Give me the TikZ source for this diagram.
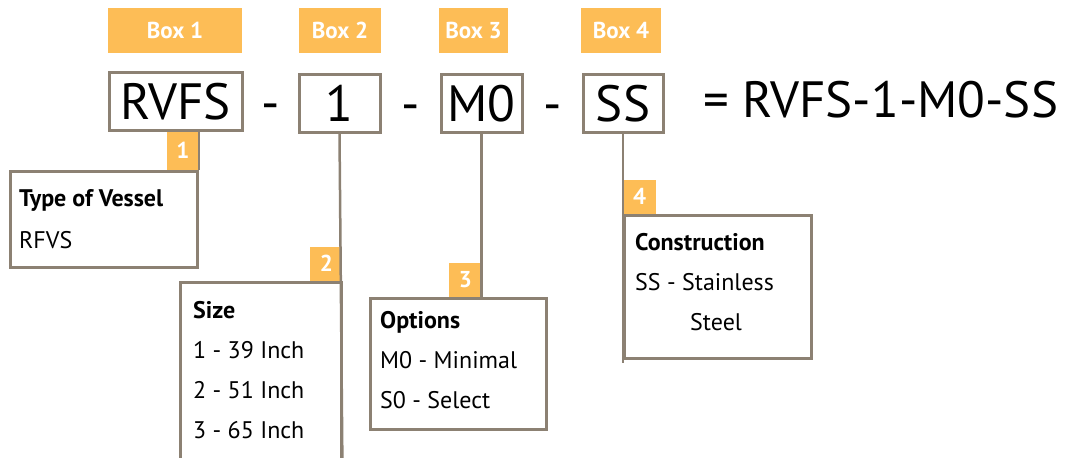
\documentclass[tikz,border=0pt]{standalone}
\usepackage{fontspec}
\setmainfont{PT Sans}
\usetikzlibrary{calc}
\definecolor{tagorange}{RGB}{253,189,86}
\definecolor{framegray}{RGB}{140,129,115}

\begin{document}
\begin{tikzpicture}[x=1pt,y=-1pt,line join=miter]
	\tikzset{codebox/.style={draw=framegray,line width=3pt,inner sep=0pt,minimum height=58pt,
			text height=36pt,text depth=0pt,font=\fontsize{51}{51}\selectfont},
		bigtxt/.style={inner sep=0pt,text height=36pt,text depth=0pt,font=\fontsize{51}{51}\selectfont},
		boxlabel/.style={fill=tagorange,text=white,inner sep=0pt,minimum height=45pt,
			text height=16pt,text depth=0pt,font=\bfseries\fontsize{23}{23}\selectfont},
		tag/.style={fill=tagorange,text=white,inner sep=0pt,minimum width=32pt,minimum height=34pt,
			text height=16pt,text depth=0pt,font=\bfseries\fontsize{23}{23}\selectfont},
		infobox/.style={draw=framegray,line width=3pt,inner sep=0pt,anchor=north west},
		infotxt/.style={anchor=base west,inner sep=0pt,font=\fontsize{24}{24}\selectfont},
		infohead/.style={infotxt,font=\bfseries\fontsize{24}{24}\selectfont},
		link/.style={draw=framegray,line width=2.5pt}}
	\useasboundingbox (0,0) rectangle (1069,458);
	% box labels
	\node[boxlabel,minimum width=134pt] (lab1) at (175,30.5) {Box 1};
	\node[boxlabel,minimum width=82pt] (lab2) at (340,30.5) {Box 2};
	\node[boxlabel,minimum width=69pt] (lab3) at (473.5,30.5) {Box 3};
	\node[boxlabel,minimum width=80pt] (lab4) at (621,30.5) {Box 4};
	% code boxes
	\node[codebox,minimum width=133pt] (rvfs) at (175.5,101) {RVFS};
	\node[codebox,minimum width=81pt] (one) at (339.5,103) {1};
	\node[codebox,minimum width=81pt] (mo) at (481.5,103.5) {M0};
	\node[codebox,minimum width=80pt] (ss) at (623,103.5) {SS};
	\node[bigtxt] (dash1) at ($(rvfs.east)!0.5!(one.west)$) {-};
	\node[bigtxt] (dash2) at ($(one.east)!0.5!(mo.west)$) {-};
	\node[bigtxt] (dash3) at ($(mo.east)!0.5!(ss.west)$) {-};
	\node[bigtxt,anchor=base west] (result) at (703,117) {= RVFS-1-M0-SS};
	% info boxes
	\node[infobox,minimum width=187pt,minimum height=96pt] (vessel) at (9,170) {};
	\node[infobox,minimum width=161pt,minimum height=190pt] (size) at (178.5,281) {};
	\node[infobox,minimum width=176pt,minimum height=131pt] (options) at (369,297) {};
	\node[infobox,minimum width=187pt,minimum height=143pt] (construction) at (623,214) {};
	% tags
	\node[tag,minimum height=38pt,anchor=south east] (tag1) at (vessel.north east) {1};
	\node[tag,anchor=south east] (tag2) at (size.north east) {2};
	\node[tag,anchor=south east] (tag3) at (mo.south |- options.north) {3};
	\node[tag,minimum width=33pt,anchor=south west] (tag4) at (construction.north west) {4};
	% links
	\draw[link] (rvfs.south -| vessel.east) -- (vessel.north east);
	\draw[link] (one.south) -- (size.south east);
	\draw[link] (mo.south) -- (mo.south |- options.north);
	\draw[link,shorten >=-3pt] (ss.south) -- (construction.south west);
	% texts
	\node[infohead] (vesselhead) at (19,206) {Type of Vessel};
	\node[infotxt] (vesselline) at (19,248) {RFVS};
	\node[infohead] (sizehead) at (193,318) {Size};
	\node[infotxt] (sizea) at (193,358) {1 - 39 Inch};
	\node[infotxt] (sizeb) at (193,398) {2 - 51 Inch};
	\node[infotxt] (sizec) at (193,438) {3 - 65 Inch};
	\node[infohead] (opthead) at (380,328) {Options};
	\node[infotxt] (opta) at (380,368) {M0 - Minimal};
	\node[infotxt] (optb) at (380,408) {S0 - Select};
	\node[infohead] (conhead) at (635,250) {Construction};
	\node[infotxt] (cona) at (635,290) {SS - Stainless};
	\node[infotxt] (conb) at (690,330) {Steel};
\end{tikzpicture}
\end{document}
